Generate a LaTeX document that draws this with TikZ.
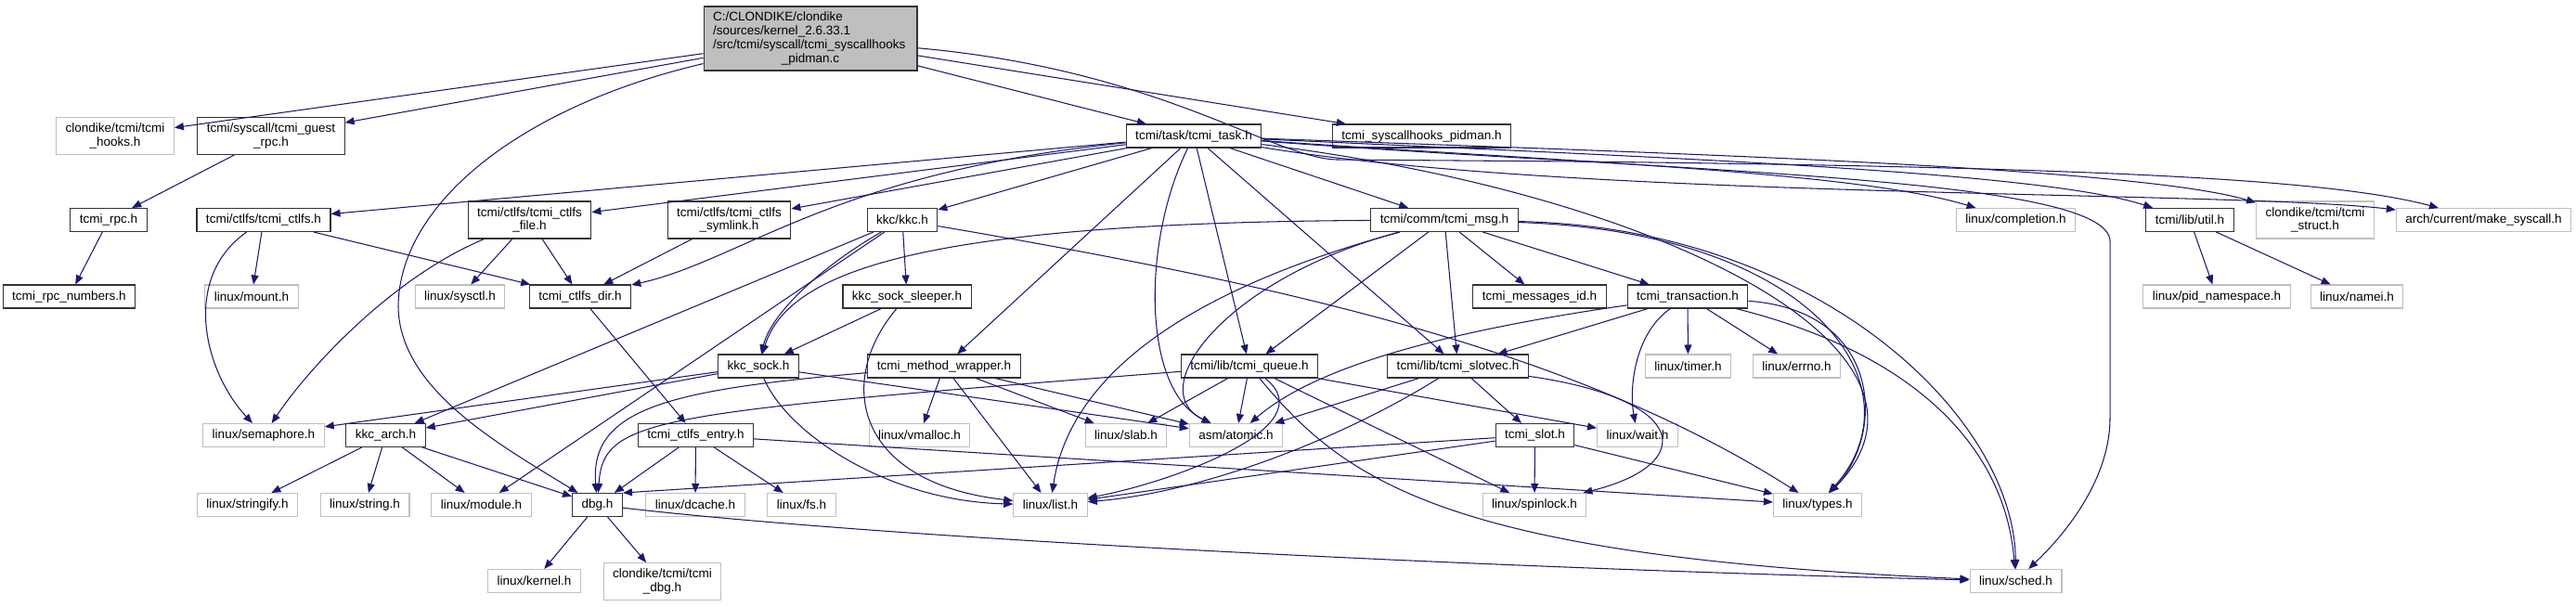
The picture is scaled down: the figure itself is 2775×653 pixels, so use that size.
\documentclass[tikz,border=0pt]{standalone}
\usepackage{fontspec}
\setmainfont{Liberation Sans}
\usetikzlibrary{arrows.meta}
\definecolor{edgeblue}{HTML}{191970}

\begin{document}
\begin{tikzpicture}[x=0.02cm,y=-0.02cm,
  font=\fontsize{7.7}{8.4}\selectfont,
  doc/.style={draw=black!80,line width=0.6pt,fill=white,inner xsep=0.2cm,inner ysep=0pt,minimum height=0.5cm,align=center},
  ext/.style={doc,draw=black!25},
  two/.style={minimum height=0.8cm},
  inc/.style={-{Triangle[length=0.2cm,width=0.16cm]},draw=edgeblue,line width=0.6pt}
]
\useasboundingbox (0,0) rectangle (2775,653);

\node[doc,fill=black!25,text width=4.2cm,align=left,minimum height=1.38cm] (main) at (873,41.5)
  {C:/CLONDIKE/clondike\\/sources/kernel\_2.6.33.1\\/src/tcmi/syscall/tcmi\_syscallhooks\\\hfill\_pidman.c\hfill\null};

\node[ext,two] (hooks) at (124,146.5) {clondike/tcmi/tcmi\\\_hooks.h};
\node[doc,two] (guestrpc) at (292,146.5) {tcmi/syscall/tcmi\_guest\\\_rpc.h};
\node[doc] (task) at (1286,146.5) {tcmi/task/tcmi\_task.h};
\node[doc] (pidmanh) at (1531.5,146.5) {tcmi\_syscallhooks\_pidman.h};

\node[doc] (rpc) at (117,237) {tcmi\_rpc.h};
\node[doc] (ctlfs) at (284,237) {tcmi/ctlfs/tcmi\_ctlfs.h};
\node[doc,two] (ctlfsfile) at (570.5,237) {tcmi/ctlfs/tcmi\_ctlfs\\\_file.h};
\node[doc,two] (symlink) at (785.5,237) {tcmi/ctlfs/tcmi\_ctlfs\\\_symlink.h};
\node[doc] (kkc) at (972,237) {kkc/kkc.h};
\node[doc] (msg) at (1556,237) {tcmi/comm/tcmi\_msg.h};
\node[ext] (completion) at (2171.5,237) {linux/completion.h};
\node[doc] (util) at (2359,237) {tcmi/lib/util.h};
\node[ext,two] (struct) at (2494,237) {clondike/tcmi/tcmi\\\_struct.h};
\node[ext] (makesys) at (2675.5,237) {arch/current/make\_syscall.h};

\node[doc] (rpcnum) at (74.5,319.5) {tcmi\_rpc\_numbers.h};
\node[ext] (mount) at (271,319.5) {linux/mount.h};
\node[ext] (sysctl) at (495.5,319.5) {linux/sysctl.h};
\node[doc] (ctlfsdir) at (625,319.5) {tcmi\_ctlfs\_dir.h};
\node[doc] (sleeper) at (977,319.5) {kkc\_sock\_sleeper.h};
\node[doc] (msgid) at (1658.5,319.5) {tcmi\_messages\_id.h};
\node[doc] (transaction) at (1818,319.5) {tcmi\_transaction.h};
\node[ext] (pidns) at (2388,319.5) {linux/pid\_namespace.h};
\node[ext] (namei) at (2539,319.5) {linux/namei.h};

\node[doc] (kkcsock) at (817,394.5) {kkc\_sock.h};
\node[doc] (wrapper) at (1017,394.5) {tcmi\_method\_wrapper.h};
\node[doc] (queue) at (1346,394.5) {tcmi/lib/tcmi\_queue.h};
\node[doc] (slotvec) at (1570.5,394.5) {tcmi/lib/tcmi\_slotvec.h};
\node[ext] (timer) at (1818.5,394.5) {linux/timer.h};
\node[ext] (errno) at (1935.5,394.5) {linux/errno.h};

\node[ext] (semaphore) at (284,469) {linux/semaphore.h};
\node[doc] (kkcarch) at (415.5,469) {kkc\_arch.h};
\node[doc] (entry) at (749.5,469) {tcmi\_ctlfs\_entry.h};
\node[ext] (vmalloc) at (990.5,469) {linux/vmalloc.h};
\node[ext] (slab) at (1213,469) {linux/slab.h};
\node[ext] (atomic) at (1331.5,469) {asm/atomic.h};
\node[doc] (slot) at (1653.5,469) {tcmi\_slot.h};
\node[ext] (wait) at (1764,469) {linux/wait.h};

\node[ext] (stringify) at (266.5,544) {linux/stringify.h};
\node[ext] (string) at (393,544) {linux/string.h};
\node[ext] (module) at (518.5,544) {linux/module.h};
\node[doc] (dbg) at (643.5,544) {dbg.h};
\node[ext] (dcache) at (749,544) {linux/dcache.h};
\node[ext] (fs) at (863.5,544) {linux/fs.h};
\node[ext] (list) at (1131.5,544) {linux/list.h};
\node[ext] (spinlock) at (1653,544) {linux/spinlock.h};
\node[ext] (types) at (1958,544) {linux/types.h};

\node[ext] (kernel) at (575.5,626) {linux/kernel.h};
\node[ext,two] (tcmidbg) at (713.5,626.5) {clondike/tcmi/tcmi\\\_dbg.h};
\node[ext] (sched) at (2171.5,626) {linux/sched.h};

% includes of the source file
\draw[inc] (main) -- (hooks);
\draw[inc] (main) -- (guestrpc);
\draw[inc] (main) .. controls (560,115) and (430,220) .. (429,330) .. controls (430,420) and (540,480) .. (dbg);
\draw[inc] (main) -- (task);
\draw[inc] (main) -- (pidmanh);
\draw[inc] (main) .. controls (1250,75) and (1370,170) .. (1440,172) -- (1700,174) .. controls (2200,180) and (2500,190) .. (makesys);

\draw[inc] (guestrpc) -- (rpc);
\draw[inc] (rpc) -- (rpcnum);

% tcmi_task.h
\draw[inc] (task) -- (ctlfs);
\draw[inc] (task) -- (ctlfsfile);
\draw[inc] (task) -- (symlink);
\draw[inc] (task) .. controls (900,185) and (800,280) .. (ctlfsdir);
\draw[inc] (task) -- (kkc);
\draw[inc] (task) -- (wrapper);
\draw[inc] (task) .. controls (1230,260) and (1230,420) .. (atomic);
\draw[inc] (task) -- (queue);
\draw[inc] (task) -- (slotvec);
\draw[inc] (task) -- (msg);
\draw[inc] (task) .. controls (1700,175) and (2000,185) .. (completion);
\draw[inc] (task) .. controls (1800,170) and (2200,185) .. (util);
\draw[inc] (task) .. controls (1800,165) and (2300,180) .. (struct);
\draw[inc] (task) .. controls (1700,215) and (2400,205) .. (makesys);
\draw[inc] (task) .. controls (1800,210) and (2120,380) .. (types);
\draw[inc] (task) .. controls (1800,185) and (2273,190) .. (2273,260) -- (2273,450) .. controls (2273,520) and (2220,580) .. (sched);

\draw[inc] (ctlfs) -- (mount);
\draw[inc] (ctlfs) -- (ctlfsdir);
\draw[inc] (ctlfs) .. controls (195,300) and (220,400) .. (semaphore);
\draw[inc] (ctlfsfile) -- (sysctl);
\draw[inc] (ctlfsfile) -- (ctlfsdir);
\draw[inc] (ctlfsfile) .. controls (420,300) and (330,400) .. (semaphore);
\draw[inc] (symlink) -- (ctlfsdir);
\draw[inc] (ctlfsdir) -- (entry);

\draw[inc] (entry) -- (dbg);
\draw[inc] (entry) -- (dcache);
\draw[inc] (entry) -- (fs);
\draw[inc] (entry) -- (types);

% kkc
\draw[inc] (kkc) -- (sleeper);
\draw[inc] (kkc) .. controls (880,290) and (830,340) .. (kkcsock);
\draw[inc] (kkc) -- (kkcarch);
\draw[inc] (kkc) -- (module);
\draw[inc] (kkc) .. controls (1400,310) and (1700,380) .. (types);
\draw[inc] (sleeper) -- (kkcsock);
\draw[inc] (sleeper) .. controls (900,410) and (920,520) .. (list);
\draw[inc] (kkcsock) -- (semaphore);
\draw[inc] (kkcsock) -- (kkcarch);
\draw[inc] (kkcsock) -- (atomic);
\draw[inc] (kkcsock) .. controls (850,470) and (960,540) .. (list);
\draw[inc] (kkcarch) -- (stringify);
\draw[inc] (kkcarch) -- (string);
\draw[inc] (kkcarch) -- (module);
\draw[inc] (kkcarch) -- (dbg);

\draw[inc] (wrapper) -- (vmalloc);
\draw[inc] (wrapper) -- (slab);
\draw[inc] (wrapper) -- (atomic);
\draw[inc] (wrapper) -- (list);
\draw[inc] (wrapper) .. controls (720,420) and (635,440) .. (dbg);

% tcmi_msg.h
\draw[inc] (msg) .. controls (1000,240) and (850,290) .. (kkcsock);
\draw[inc] (msg) -- (msgid);
\draw[inc] (msg) -- (transaction);
\draw[inc] (msg) -- (queue);
\draw[inc] (msg) -- (slotvec);
\draw[inc] (msg) .. controls (1320,300) and (1230,420) .. (atomic);
\draw[inc] (msg) .. controls (1250,320) and (1150,420) .. (list);
\draw[inc] (msg) .. controls (1960,250) and (2070,420) .. (types);
\draw[inc] (msg) .. controls (1960,245) and (2170,450) .. (sched);

\draw[inc] (transaction) -- (slotvec);
\draw[inc] (transaction) -- (timer);
\draw[inc] (transaction) -- (errno);
\draw[inc] (transaction) .. controls (1500,365) and (1400,410) .. (atomic);
\draw[inc] (transaction) .. controls (1760,360) and (1755,420) .. (wait);
\draw[inc] (transaction) .. controls (2030,335) and (2030,470) .. (types);
\draw[inc] (transaction) .. controls (2060,380) and (2160,480) .. (sched);

\draw[inc] (queue) -- (slab);
\draw[inc] (queue) -- (atomic);
\draw[inc] (queue) -- (wait);
\draw[inc] (queue) -- (spinlock);
\draw[inc] (queue) .. controls (1430,460) and (1260,520) .. (list);
\draw[inc] (queue) .. controls (700,445) and (650,450) .. (dbg);
\draw[inc] (queue) .. controls (1450,520) and (1560,600) .. (sched);

\draw[inc] (slotvec) -- (atomic);
\draw[inc] (slotvec) -- (slot);
\draw[inc] (slotvec) .. controls (1450,470) and (1300,530) .. (list);
\draw[inc] (slotvec) .. controls (1820,430) and (1830,500) .. (spinlock);

\draw[inc] (slot) -- (dbg.north east);
\draw[inc] (slot) -- (list);
\draw[inc] (slot) -- (spinlock);
\draw[inc] (slot) -- (types);

\draw[inc] (dbg) -- (kernel);
\draw[inc] (dbg) -- (tcmidbg);
\draw[inc] (dbg) .. controls (1000,585) and (1700,615) .. (sched);

\draw[inc] (util) -- (pidns);
\draw[inc] (util) -- (namei);
\end{tikzpicture}
\end{document}
